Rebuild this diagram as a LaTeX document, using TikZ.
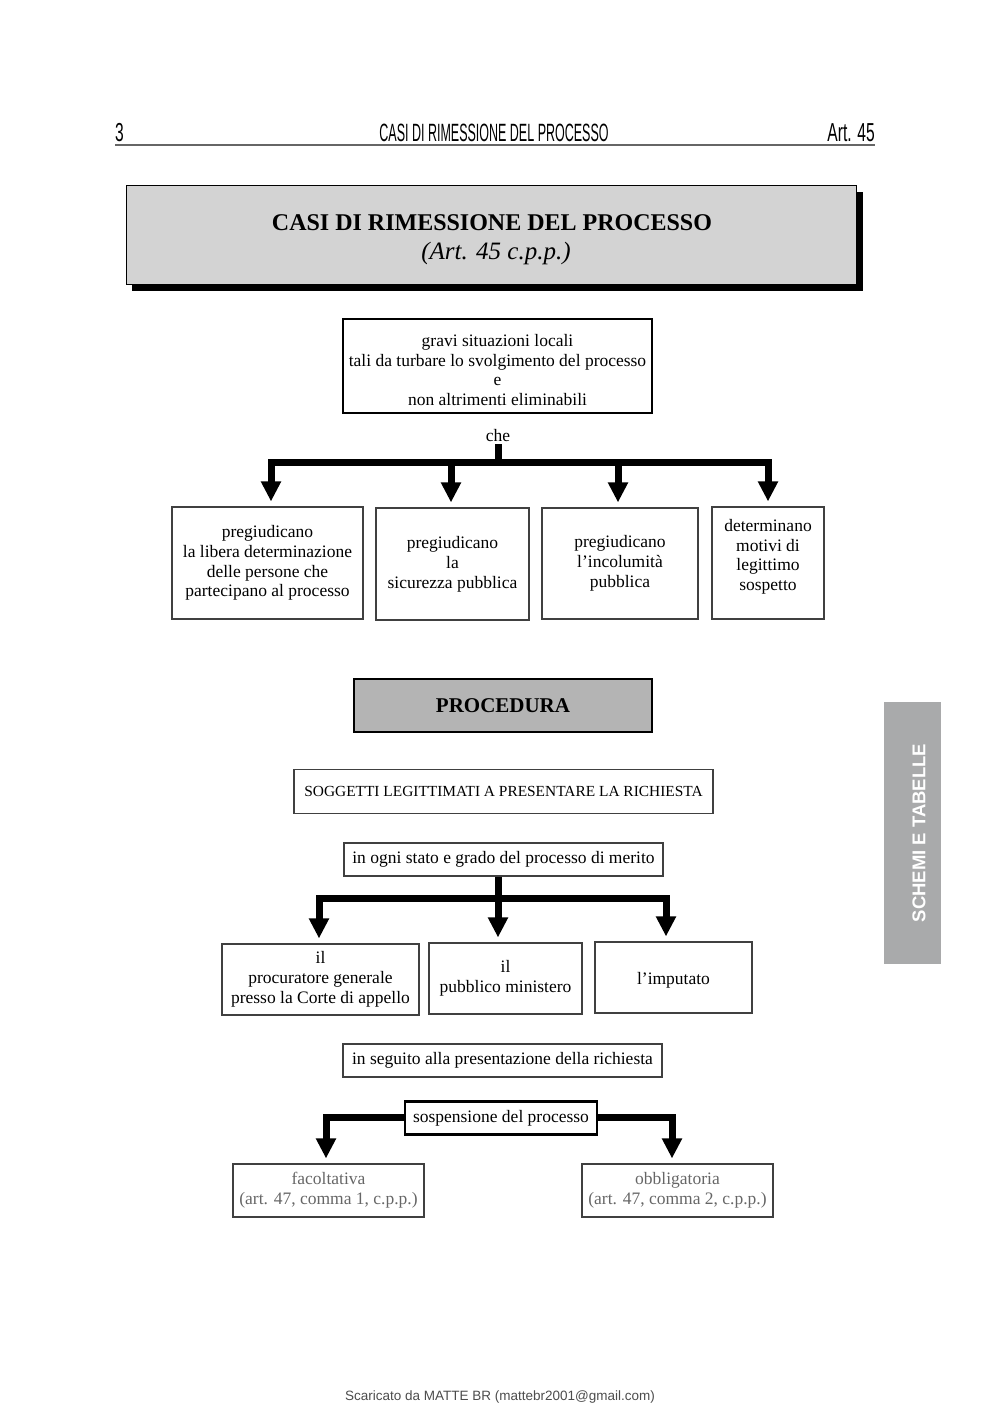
\documentclass[tikz,border=0pt]{standalone}
\usepackage{fontspec}
\setmainfont{Liberation Serif}
\newfontfamily\hdrfont[FakeStretch=0.5]{Liberation Sans}
\newfontfamily\hdrfontb[FakeStretch=0.6]{Liberation Sans}
\newfontfamily\sansf{Liberation Sans}
\usetikzlibrary{arrows.meta}
\definecolor{titlegray}{HTML}{D3D3D3}
\definecolor{procgray}{HTML}{B4B4B4}
\definecolor{tabgray}{HTML}{A9AAAB}
\definecolor{lightink}{HTML}{666666}
\tikzset{
  box/.style={draw=black!75, line width=1.1pt, inner sep=0pt, align=center,
    font=\fontsize{17.5}{19.8}\selectfont},
  thickbox/.style={box, draw=black, line width=2pt},
  conn/.style={line width=7pt, line join=miter, shorten >=5pt,
    -{Triangle[width=19pt,length=20pt]}},
  stub/.style={line width=7pt},
  hdr/.style={inner sep=0pt, font=\hdrfont\fontsize{25}{26}\selectfont},
  hdrb/.style={inner sep=0pt, font=\hdrfontb\fontsize{26}{27}\selectfont},
}
\begin{document}
\begin{tikzpicture}[x=1pt,y=-1pt]
\useasboundingbox (0,0) rectangle (1000,1415);
% header
\node[hdrb, anchor=base west] (pg) at (115,141.5) {3};
\node[hdr, anchor=base] (htitle) at (494,141.5) {CASI DI RIMESSIONE DEL PROCESSO};
\node[hdrb, anchor=base east] (art) at (875,141.5) {Art. 45};
\draw[black!60, line width=1.5pt] (115,145) -- (875,145);

% title box with shadow
\fill[black] (132,192) rectangle (863,291);
\node[draw=black, line width=1pt, fill=titlegray, minimum width=730pt, minimum height=98pt, inner sep=0pt] (title) at (491,235) {};
\node[inner sep=0pt, font=\fontsize{24}{28}\selectfont\bfseries] (titlea) at (492,223) {CASI DI RIMESSIONE DEL PROCESSO};
\node[inner sep=0pt, font=\fontsize{25}{28}\selectfont\itshape] (titleb) at (496,253) {(Art. 45 c.p.p.)};

% gravi situazioni
\node[thickbox, minimum width=309pt, minimum height=94pt] (gravi) at (497.5,366)
  {\rule{0pt}{20pt}gravi situazioni locali\\tali da turbare lo svolgimento del processo\\e\\non altrimenti eliminabili};
\node[inner sep=2pt, font=\fontsize{17.5}{19.8}\selectfont] (che) at (498,436) {che};
\coordinate (bar1) at (498,462);

\node[box, minimum width=191pt, minimum height=112pt] (b1) at (267.5,563)
  {pregiudicano\\la libera determinazione\\delle persone che\\partecipano al processo};
\node[box, minimum width=153pt, minimum height=112pt] (b2) at (452.5,564)
  {pregiudicano\\la\\sicurezza pubblica};
\node[box, minimum width=156pt, minimum height=111pt] (b3) at (620,563.5)
  {pregiudicano\\l'incolumità\\pubblica};
\node[box, minimum width=112pt, minimum height=112pt] (b4) at (768,563)
  {determinano\\motivi di\\legittimo\\sospetto\rule[-16pt]{0pt}{16pt}};

\draw[stub] (che.south) -- (bar1);
\draw[conn] (bar1) -| ([xshift=3.5pt]b1.north);
\draw[conn] (bar1) -| ([xshift=-1.5pt]b2.north);
\draw[conn] (bar1) -| ([xshift=-2pt]b3.north);
\draw[conn] (bar1) -| (b4.north);

% procedura
\node[thickbox, fill=procgray, minimum width=298pt, minimum height=53pt,
  font=\fontsize{21}{24}\selectfont\bfseries] (proc) at (503,705.5) {PROCEDURA};

\node[box, minimum width=419pt, minimum height=44pt, font=\fontsize{15.4}{18}\selectfont] (sogg) at (503.5,791.5)
  {SOGGETTI LEGITTIMATI A PRESENTARE LA RICHIESTA};

\node[box, minimum width=319pt, minimum height=33pt] (ogni) at (503.5,859.5)
  {in ogni stato e grado del processo di merito};
\coordinate (bar2) at (498,898);

\node[box, minimum width=197pt, minimum height=71pt] (c1) at (320.5,979.5)
  {il\\procuratore generale\\presso la Corte di appello};
\node[box, minimum width=153pt, minimum height=71pt] (c2) at (505.5,978.5)
  {il\\pubblico ministero};
\node[box, minimum width=157pt, minimum height=71pt] (c3) at (673.5,977.5)
  {\rule{0pt}{17pt}l'imputato};

\draw[stub] (ogni.south -| bar2) -- (bar2);
\draw[conn] (bar2) -| ([xshift=-1.5pt]c1.north);
\draw[conn] (bar2) -- (bar2 |- c2.north);
\draw[conn] (bar2) -| ([xshift=-7.5pt]c3.north);

% sospensione
\node[box, minimum width=319pt, minimum height=33pt] (seguito) at (502.5,1060.5)
  {in seguito alla presentazione della richiesta};
\node[thickbox, line width=2.5pt, minimum width=192pt, minimum height=33pt] (sosp) at (501,1118)
  {sospensione del processo};

\node[box, minimum width=191pt, minimum height=53pt, text=lightink] (fac) at (328.5,1190.5)
  {facoltativa\\(art. 47, comma 1, c.p.p.)};
\node[box, minimum width=191pt, minimum height=53pt, text=lightink] (obb) at (677.5,1190.5)
  {obbligatoria\\(art. 47, comma 2, c.p.p.)};

\draw[conn] ([yshift=1pt]sosp.west) -| ([xshift=-2.5pt]fac.north);
\draw[conn] ([yshift=1pt]sosp.east) -| ([xshift=-5.5pt]obb.north);

% side tab
\node[fill=tabgray, minimum width=57pt, minimum height=262pt, inner sep=0pt] (tab) at (912.5,833) {};
\node[rotate=90, text=white, inner sep=0pt, font=\sansf\bfseries\fontsize{18.5}{20}\selectfont] (tabtext) at (919,833) {SCHEMI E TABELLE};

% footer
\node[anchor=base, inner sep=0pt, text=black!70, font=\sansf\fontsize{13.5}{15}\selectfont] (foot) at (500,1400)
  {Scaricato da MATTE BR (mattebr2001@gmail.com)};
\end{tikzpicture}
\end{document}
